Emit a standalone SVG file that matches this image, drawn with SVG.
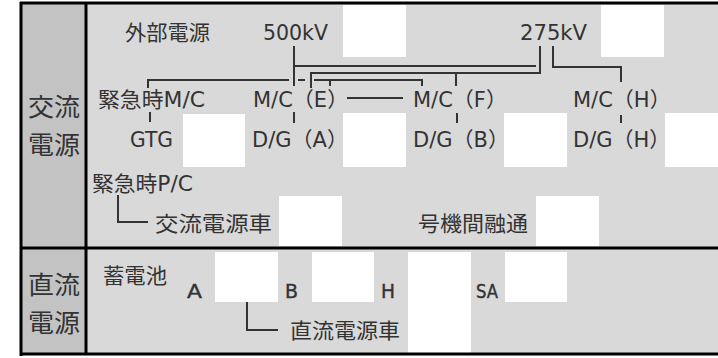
<svg xmlns="http://www.w3.org/2000/svg" width="718" height="358" viewBox="0 0 718 358">
<style>
text{font-family:"DejaVu Sans","Noto Sans CJK JP",sans-serif;fill:#333;font-size:21px}
.hd{font-size:25px}
.sm{font-family:"DejaVu Sans",sans-serif;font-size:19px;fill:#333;stroke:#333;stroke-width:0.4}
.blank{fill:#fff}
.ln{stroke:#333;stroke-width:2;fill:none}
.bd{stroke:#000;stroke-width:3;fill:none}
</style>
<rect width="718" height="358" fill="#fff"/>
<rect x="21" y="3" width="697" height="351" fill="#d9d9d9"/>
<rect x="21" y="3" width="65" height="351" fill="#c3c3c3"/>
<g id="blanks">
<rect class="blank" x="343" y="5" width="63" height="52"/>
<rect class="blank" x="601" y="5" width="63" height="52"/>
<rect class="blank" x="183" y="114" width="62" height="53"/>
<rect class="blank" x="343" y="113" width="63" height="54"/>
<rect class="blank" x="504" y="113" width="63" height="54"/>
<rect class="blank" x="665" y="113" width="53" height="54"/>
<rect class="blank" x="279" y="196" width="63" height="50"/>
<rect class="blank" x="536" y="196" width="63" height="50"/>
<rect class="blank" x="215" y="252" width="63" height="50"/>
<rect class="blank" x="312" y="252" width="62" height="50"/>
<rect class="blank" x="408" y="252" width="63" height="101"/>
<rect class="blank" x="505" y="252" width="62" height="50"/>
</g>
<g id="frame">
<line class="bd" x1="20" y1="3" x2="718" y2="3"/>
<line class="bd" x1="21" y1="2" x2="21" y2="356"/>
<line class="bd" x1="86" y1="3" x2="86" y2="354"/>
<line class="bd" x1="20" y1="248" x2="718" y2="248"/>
<line class="bd" x1="20" y1="354" x2="718" y2="354"/>
</g>
<g id="connectors">
<path class="ln" d="M294 46V86"/>
<path class="ln" d="M294 66H536"/>
<path class="ln" d="M540 46V73H311V88"/>
<path class="ln" d="M314 80H422V86"/>
<path class="ln" d="M330 80V86"/>
<path class="ln" d="M456 73V86"/>
<path class="ln" d="M553 46V67H621V82"/>
<path class="ln" d="M148 88V80H289"/>
<path class="ln" d="M298 80H305"/>
<path class="ln" d="M347 98H403"/>
<path class="ln" d="M150 112V122"/>
<path class="ln" d="M294 112V123"/>
<path class="ln" d="M457 113V123"/>
<path class="ln" d="M621 115V123"/>
<path class="ln" d="M118 195V222H148"/>
<path class="ln" d="M247 302V330H278"/>
</g>
<g id="label-ac"><text class="hd" x="28" y="116" textLength="52" lengthAdjust="spacingAndGlyphs">交流</text><text class="hd" x="28" y="154" textLength="52" lengthAdjust="spacingAndGlyphs">電源</text></g>
<g id="label-dc"><text class="hd" x="28" y="294" textLength="52" lengthAdjust="spacingAndGlyphs">直流</text><text class="hd" x="28" y="332" textLength="52" lengthAdjust="spacingAndGlyphs">電源</text></g>
<g id="gaibu"><text x="125" y="40" textLength="85" lengthAdjust="spacingAndGlyphs">外部電源</text></g>
<g id="v500"><text x="263" y="40" textLength="65" lengthAdjust="spacingAndGlyphs">500kV</text></g>
<g id="v275"><text x="520" y="40" textLength="67" lengthAdjust="spacingAndGlyphs">275kV</text></g>
<g id="mc-em"><text x="98" y="107" textLength="107" lengthAdjust="spacingAndGlyphs">緊急時M/C</text></g>
<g id="mc-e"><text x="253" y="107">M/C（E）</text></g>
<g id="mc-f"><text x="413" y="107">M/C（F）</text></g>
<g id="mc-h"><text x="573" y="107">M/C（H）</text></g>
<g id="gtg"><text x="130" y="147" textLength="43" lengthAdjust="spacingAndGlyphs">GTG</text></g>
<g id="dg-a"><text x="252" y="147">D/G（A）</text></g>
<g id="dg-b"><text x="413" y="147">D/G（B）</text></g>
<g id="dg-h"><text x="573" y="147">D/G（H）</text></g>
<g id="pc-em"><text x="92" y="191" font-size="19" textLength="101" lengthAdjust="spacingAndGlyphs">緊急時P/C</text></g>
<g id="ac-car"><text x="155" y="231" textLength="117" lengthAdjust="spacingAndGlyphs">交流電源車</text></g>
<g id="interunit"><text x="418" y="231" font-size="20" textLength="110" lengthAdjust="spacingAndGlyphs">号機間融通</text></g>
<g id="battery"><text x="103" y="283" font-size="19" textLength="64" lengthAdjust="spacingAndGlyphs">蓄電池</text></g>
<g id="bat-a"><text class="sm" x="187" y="298" textLength="15" lengthAdjust="spacingAndGlyphs">A</text></g>
<g id="bat-b"><text class="sm" x="285" y="298" textLength="13" lengthAdjust="spacingAndGlyphs">B</text></g>
<g id="bat-h"><text class="sm" x="381" y="298" textLength="14" lengthAdjust="spacingAndGlyphs">H</text></g>
<g id="bat-sa"><text class="sm" x="476" y="298" font-size="17" textLength="22" lengthAdjust="spacingAndGlyphs">SA</text></g>
<g id="dc-car"><text x="290" y="338" textLength="110" lengthAdjust="spacingAndGlyphs">直流電源車</text></g>
</svg>
